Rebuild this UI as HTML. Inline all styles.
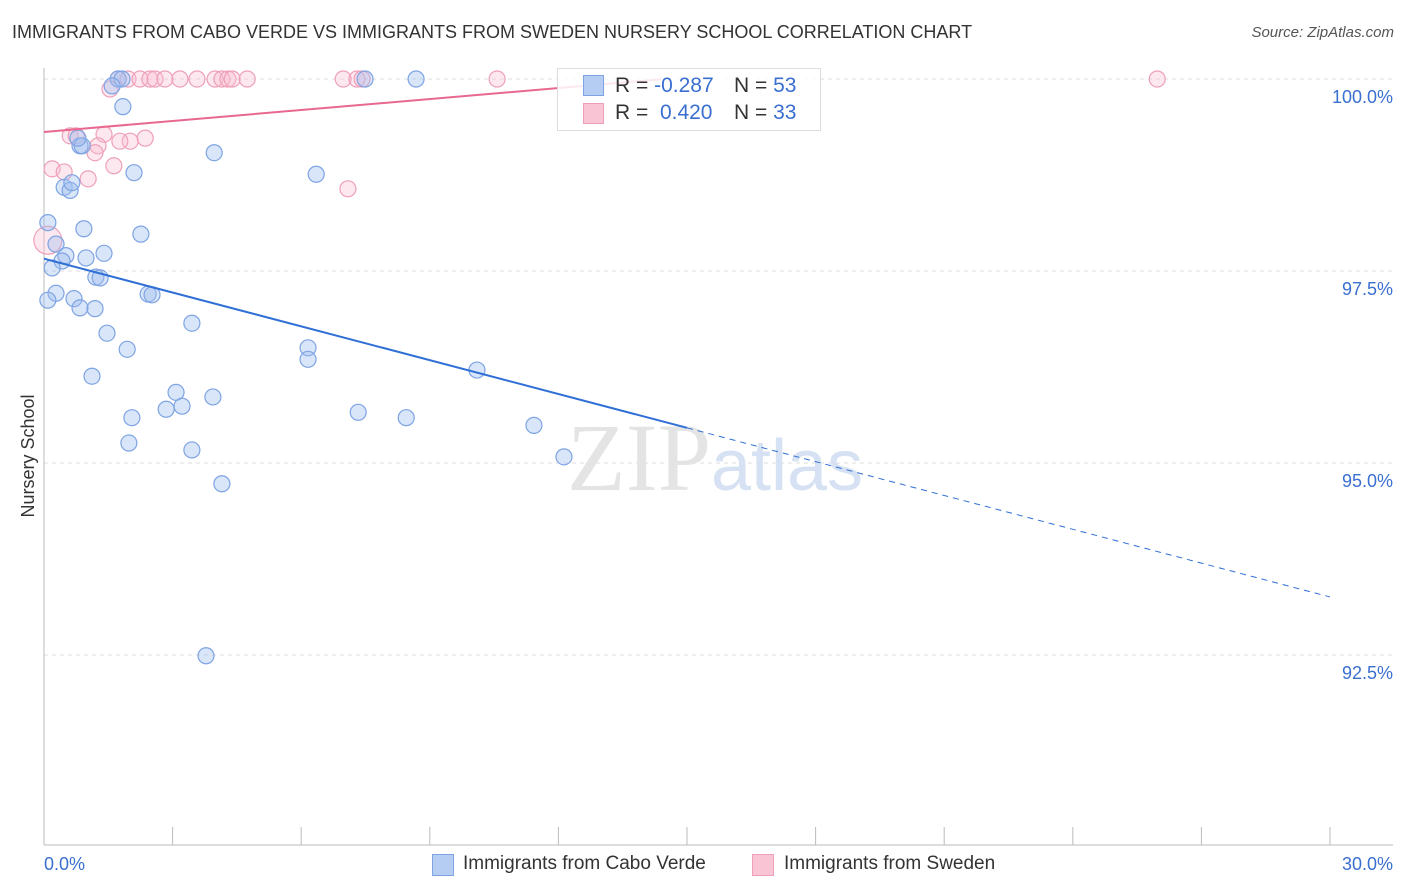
<!DOCTYPE html>
<html><head><meta charset="utf-8">
<style>
body{margin:0;background:#fff;font-family:"Liberation Sans",sans-serif;}
#wrap{position:relative;width:1406px;height:892px;overflow:hidden;}
.t{position:absolute;white-space:nowrap;}
</style></head>
<body>
<div id="wrap">
<div class="t" style="left:12px;top:22px;font-size:18px;color:#333;">IMMIGRANTS FROM CABO VERDE VS IMMIGRANTS FROM SWEDEN NURSERY SCHOOL CORRELATION CHART</div>
<div class="t" style="right:12px;top:24px;font-size:15px;color:#555;font-style:italic;">Source: ZipAtlas.com</div>
<svg id="chart" width="1406" height="892" style="position:absolute;left:0;top:0">
<g id="grid"></g>
<text x="715" y="490" text-anchor="middle" font-size="96" font-family="Liberation Serif,serif" fill="#e4e4e4">ZIP<tspan font-family="Liberation Sans,sans-serif" font-size="72" fill="#d6e2f3">atlas</tspan></text>
<g id="marks"></g>
<text transform="translate(34,456) rotate(-90)" text-anchor="middle" font-size="18" fill="#333">Nursery School</text>
</svg>
<div style="position:absolute;left:557px;top:68px;width:262px;height:61px;border:1px solid #ddd;background:rgba(255,255,255,0.85);">
 <div style="position:absolute;left:25px;top:6px;width:19px;height:19px;background:#b5cdf3;border:1px solid #7ea4e3;"></div>
 <div style="position:absolute;left:25px;top:34px;width:19px;height:19px;background:#f9c4d4;border:1px solid #eea0b8;"></div>
 <div class="t" style="left:57px;top:5px;font-size:21px;color:#333;">R = <span style="color:#3a6fd0">-0.287</span></div>
 <div class="t" style="left:57px;top:32px;font-size:21px;color:#333;">R = &nbsp;<span style="color:#3a6fd0">0.420</span></div>
 <div class="t" style="left:176px;top:5px;font-size:21px;color:#333;">N = <span style="color:#3a6fd0">53</span></div>
 <div class="t" style="left:176px;top:32px;font-size:21px;color:#333;">N = <span style="color:#3a6fd0">33</span></div>
</div>
<div style="position:absolute;left:432px;top:854px;width:20px;height:20px;background:#b5cdf3;border:1px solid #7ea4e3;"></div>
<div class="t" style="left:463px;top:853px;font-size:19px;color:#333;">Immigrants from Cabo Verde</div>
<div style="position:absolute;left:752px;top:854px;width:20px;height:20px;background:#f9c4d4;border:1px solid #eea0b8;"></div>
<div class="t" style="left:784px;top:853px;font-size:19px;color:#333;">Immigrants from Sweden</div>
</div>
<script>
const yTicks=[100,97.5,95,92.5];
const yTickLabels=["100.0%","97.5%","95.0%","92.5%"];
const xEndLabels=["0.0%","30.0%"];
const blueX=[1.73,1.82,7.49,8.68,1.59,1.84,3.97,0.84,0.89,2.10,6.35,0.47,0.61,0.65,0.09,0.93,2.26,0.28,1.40,0.98,0.51,0.42,0.19,1.21,1.31,0.28,0.09,0.70,0.84,1.19,2.43,2.52,3.45,1.47,1.94,6.16,6.16,10.10,1.12,3.08,3.94,2.85,3.22,7.33,8.45,2.05,11.43,1.98,3.45,12.13,4.15,3.78,0.79];
const blueY=[100,100,100,100,99.91,99.64,99.04,99.13,99.13,98.78,98.76,98.59,98.55,98.65,98.13,98.05,97.98,97.85,97.73,97.67,97.70,97.63,97.54,97.42,97.41,97.21,97.12,97.14,97.02,97.01,97.20,97.19,96.82,96.69,96.48,96.50,96.35,96.21,96.13,95.92,95.86,95.70,95.74,95.66,95.59,95.59,95.49,95.26,95.17,95.08,94.73,92.49,99.23];
const pinkX=[1.73,1.96,2.24,2.47,2.59,2.82,3.17,3.57,3.99,4.15,4.29,4.39,4.74,6.98,7.30,7.42,10.57,25.97,1.54,0.61,0.75,1.40,2.36,2.01,1.77,1.26,1.19,0.19,0.47,1.63,1.03,7.09,0.09];
const pinkY=[100,100,100,100,100,100,100,100,100,100,100,100,100,100,100,100,100,100,99.87,99.26,99.26,99.28,99.23,99.19,99.19,99.13,99.04,98.83,98.79,98.87,98.70,98.57,97.90];
const blueTrend=[97.66,-0.1468];
const pinkTrend=[99.31,0.0477];
const X=v=>44+v*1286/30;
const Y=v=>79+(100-v)*76.8;
const NS="http://www.w3.org/2000/svg";
const grid=document.getElementById('grid'),marks=document.getElementById('marks');
function mk(tag,attrs,parent){const e=document.createElementNS(NS,tag);for(const k in attrs)e.setAttribute(k,attrs[k]);parent.appendChild(e);return e;}
yTicks.forEach((t,i)=>{
 const l=mk('line',{x1:44,x2:1393,y1:Y(t),y2:Y(t),stroke:'#ddd','stroke-dasharray':'4,4'},grid);
 
 
 const tx=mk('text',{x:1393,y:Y(t)+24,'text-anchor':'end','font-size':18,fill:'#3a6fd0'},grid);
 tx.textContent=yTickLabels[i];
 
 
});
let ax=mk('line',{x1:44,x2:44,y1:68,y2:845,stroke:'#bbb'},grid);


ax=mk('line',{x1:44,x2:1393,y1:845,y2:845,stroke:'#bbb'},grid);


for(let i=1;i<=10;i++){const xx=X(i*3);const tk=mk('line',{x1:xx,x2:xx,y1:827,y2:845,stroke:'#bbb'},grid);
 
 }
[[0,'start',44],[30,'end',1393]].forEach((a,i)=>{const tx=mk('text',{x:a[2],y:870,'text-anchor':a[1],'font-size':18,fill:'#3a6fd0'},grid);tx.textContent=xEndLabels[i];
 
 });
pinkX.forEach((x,i)=>{const c=mk('circle',{cx:X(x),cy:Y(pinkY[i]),r:i==pinkX.length-1?14:8,fill:'rgba(249,190,208,0.35)',stroke:'#eea0b8','stroke-width':1.2},marks);
 
 });
blueX.forEach((x,i)=>{const c=mk('circle',{cx:X(x),cy:Y(blueY[i]),r:8,fill:'rgba(160,190,240,0.4)',stroke:'#7ea4e3','stroke-width':1.2},marks);
 
 });
const bf=x=>blueTrend[0]+blueTrend[1]*x, pf=x=>pinkTrend[0]+pinkTrend[1]*x;
let tl=mk('line',{x1:X(0),y1:Y(bf(0)),x2:X(15),y2:Y(bf(15)),stroke:'#2f6fd6','stroke-width':2},marks);


tl=mk('line',{x1:X(15),y1:Y(bf(15)),x2:X(30),y2:Y(bf(30)),stroke:'#2f6fd6','stroke-width':1,'stroke-dasharray':'6,5'},marks);


tl=mk('line',{x1:X(0),y1:Y(pf(0)),x2:X(14.4),y2:Y(pf(14.4)),stroke:'#e8688f','stroke-width':2},marks);


</script>
</body></html>
